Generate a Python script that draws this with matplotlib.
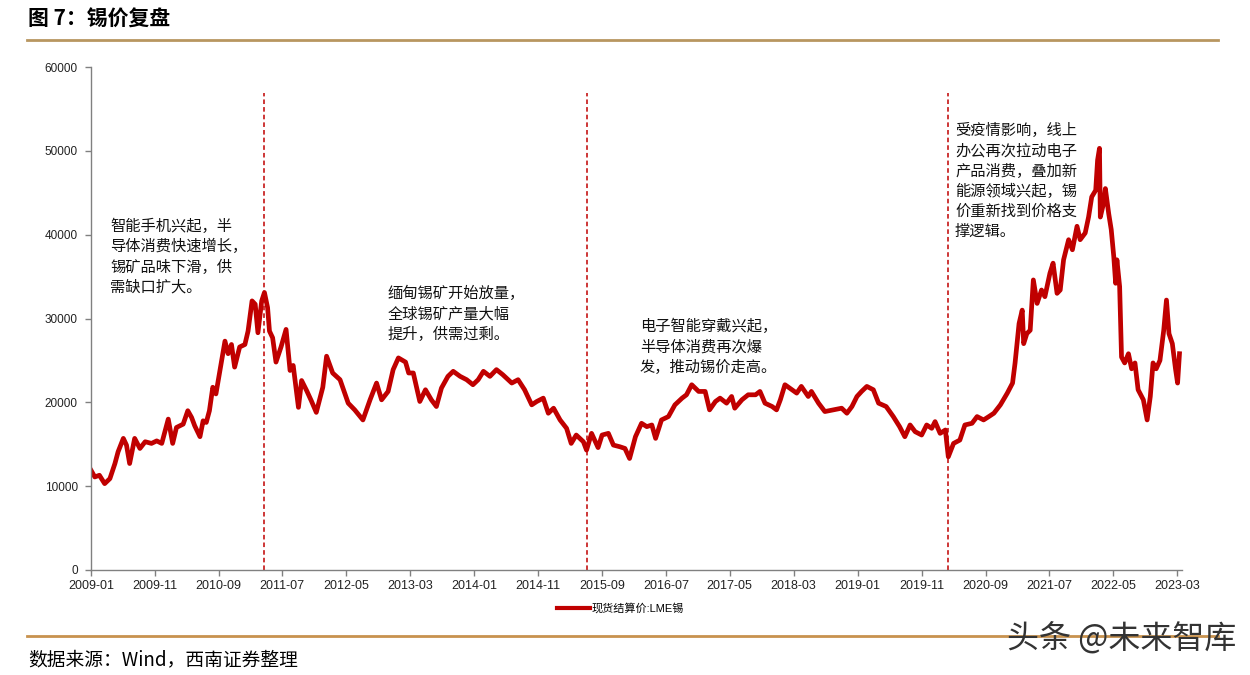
import matplotlib
matplotlib.use("Agg")
import matplotlib.pyplot as plt
import matplotlib.dates as mdates
import pandas as pd

plt.rcParams['font.family'] = ['Liberation Sans', 'Noto Sans CJK SC', 'DejaVu Sans']

# ---------------- data ----------------
dates = [
    "2009-01-01","2009-01-19","2009-02-10","2009-03-07","2009-04-01","2009-04-25","2009-05-10","2009-06-04",
    "2009-06-19","2009-07-04","2009-07-28","2009-08-22","2009-09-16","2009-10-16","2009-11-10","2009-12-04",
    "2010-01-04","2010-01-25","2010-02-12","2010-03-16","2010-04-07","2010-04-25","2010-05-10","2010-06-04",
    "2010-06-19","2010-07-04","2010-07-19","2010-08-04","2010-08-19","2010-09-07","2010-10-01","2010-10-16",
    "2010-11-01","2010-11-16","2010-12-10","2011-01-04","2011-01-19","2011-02-07","2011-02-22","2011-03-07",
    "2011-03-25","2011-04-07","2011-04-22","2011-05-01","2011-05-16","2011-06-01","2011-06-25","2011-07-19",
    "2011-08-07","2011-08-22","2011-09-16","2011-10-01","2011-10-25","2011-11-16","2011-12-10","2012-01-10",
    "2012-01-28","2012-02-26","2012-04-01","2012-05-10","2012-06-10","2012-07-19","2012-08-22","2012-09-22",
    "2012-10-16","2012-11-16","2012-12-10","2013-01-04","2013-02-07","2013-02-22","2013-03-16","2013-04-16",
    "2013-05-13","2013-06-10","2013-07-04","2013-07-28","2013-08-28","2013-09-22","2013-10-25","2013-11-25",
    "2013-12-25","2014-01-19","2014-02-13","2014-03-16","2014-04-16","2014-05-16","2014-06-28","2014-07-28",
    "2014-08-28","2014-10-01","2014-10-25","2014-11-25","2014-12-19","2015-01-13","2015-02-13","2015-03-16",
    "2015-04-07","2015-05-01","2015-06-04","2015-06-19","2015-07-13","2015-08-13","2015-09-01","2015-10-01",
    "2015-10-25","2015-11-25","2015-12-19","2016-01-10","2016-02-07","2016-03-07","2016-04-01","2016-04-25",
    "2016-05-13","2016-06-10","2016-07-13","2016-08-13","2016-09-16","2016-10-07","2016-11-01","2016-12-04",
    "2017-01-04","2017-01-25","2017-02-22","2017-03-16","2017-04-16","2017-05-10","2017-05-25","2017-06-28",
    "2017-07-28","2017-09-01","2017-09-22","2017-10-16","2017-11-19","2017-12-10","2017-12-28","2018-01-19",
    "2018-02-22","2018-03-16","2018-04-07","2018-05-10","2018-05-25","2018-06-28","2018-07-28","2018-09-07",
    "2018-10-16","2018-11-10","2018-12-04","2018-12-28","2019-01-19","2019-02-13","2019-03-16","2019-04-10",
    "2019-05-16","2019-06-19","2019-07-19","2019-08-13","2019-09-07","2019-10-01","2019-11-01","2019-11-25",
    "2019-12-19","2020-01-04","2020-01-28","2020-02-22","2020-03-07","2020-04-01","2020-05-01","2020-05-25",
    "2020-06-28","2020-07-22","2020-08-22","2020-09-16","2020-10-10","2020-11-10","2020-12-13","2021-01-07",
    "2021-01-19","2021-02-07","2021-02-22","2021-03-01","2021-03-16","2021-04-01","2021-04-16","2021-05-04",
    "2021-05-25","2021-06-10","2021-07-04","2021-07-19","2021-08-07","2021-08-22","2021-09-07","2021-10-01",
    "2021-10-19","2021-11-10","2021-11-25","2021-12-19","2022-01-04","2022-01-19","2022-02-07","2022-02-16",
    "2022-02-25","2022-03-01","2022-03-16","2022-03-25","2022-04-10","2022-04-22","2022-05-04","2022-05-13",
    "2022-05-19","2022-06-01","2022-06-10","2022-06-25","2022-07-13","2022-07-28","2022-08-13","2022-08-28",
    "2022-09-22","2022-10-10","2022-10-25","2022-11-07","2022-11-22","2022-12-10","2022-12-28","2023-01-10",
    "2023-01-22","2023-02-07","2023-02-22","2023-03-04","2023-03-13",
]
lme_tin = [
    11900,11100,11300,10300,10900,12700,14100,15700,
    14900,12700,15700,14500,15300,15100,15400,15100,
    18000,15100,17000,17400,19000,18200,17200,15900,
    17800,17600,19000,21800,21000,23800,27300,25800,
    26900,24200,26600,26900,28500,32100,31700,28300,
    32100,33100,31300,28500,27700,24800,26600,28700,
    23800,24400,19400,22600,21400,20200,18800,21800,
    25500,23500,22700,19900,19100,17900,20300,22300,
    20300,21300,23900,25300,24800,23500,23500,20100,
    21500,20300,19500,21700,23100,23700,23100,22700,
    22100,22700,23700,23100,23900,23300,22300,22700,
    21500,19700,20100,20500,18700,19300,17900,16900,
    15100,16100,15300,14300,16300,14600,16100,16300,
    14900,14700,14500,13300,15900,17500,17100,17300,
    15700,17900,18300,19700,20500,20900,22100,21300,
    21300,19100,20100,20500,19900,20700,19300,20300,
    20900,20900,21300,19900,19500,19100,20300,22100,
    21500,21100,21900,20700,21300,19900,18900,19100,
    19300,18700,19500,20700,21300,21900,21500,19900,
    19500,18300,17100,15900,17300,16500,16100,17300,
    16900,17700,16300,16700,13500,15100,15500,17300,
    17500,18300,17900,18300,18700,19700,21100,22300,
    24700,29400,31000,27000,28200,28600,34600,31800,
    33400,32600,35400,36600,33000,33400,37000,39400,
    38200,41000,39400,40200,42100,44500,45300,48900,
    50300,42100,43700,45500,42500,40600,37400,34200,
    37000,33800,25400,24700,25800,24000,24700,21500,
    20300,17900,20700,24700,24000,25000,28600,32200,
    28200,27000,24000,22300,25800,
]
series_name = "现货结算价:LME锡"
event_dates = ["2011-04-07", "2015-06-19", "2020-03-07"]
tick_labels = ["2009-01","2009-11","2010-09","2011-07","2012-05","2013-03","2014-01","2014-11","2015-09",
               "2016-07","2017-05","2018-03","2019-01","2019-11","2020-09","2021-07","2022-05","2023-03"]
y_ticks = [0, 10000, 20000, 30000, 40000, 50000, 60000]
notes = [
    "智能手机兴起，半\n导体消费快速增长，\n锡矿品味下滑，供\n需缺口扩大。",
    "缅甸锡矿开始放量，\n全球锡矿产量大幅\n提升，供需过剩。",
    "电子智能穿戴兴起，\n半导体消费再次爆\n发，推动锡价走高。",
    "受疫情影响，线上\n办公再次拉动电子\n产品消费，叠加新\n能源领域兴起，锡\n价重新找到价格支\n撑逻辑。",
]
title = "图 7：锡价复盘"
source = "数据来源：Wind，西南证券整理"
watermark = "头条 @未来智库"

# ---------------- figure ----------------
W, H = 1250, 675
fig = plt.figure(figsize=(W / 100, H / 100), dpi=100)
ax = fig.add_axes([91 / W, 1 - 570 / H, (1182 - 91) / W, (570 - 67) / H])

x = pd.to_datetime(dates)
red = "#C00000"
ax.plot(x, lme_tin, color=red, lw=3.4, solid_joinstyle="round", label=series_name)

for d in event_dates:
    ax.plot([pd.Timestamp(d)] * 2, [0, 56900], color=red, lw=1.1, ls=(0, (3, 2)))

ax.set_ylim(0, 60000)
ax.set_yticks(y_ticks)
ax.set_yticklabels([str(v) for v in y_ticks], fontsize=8.5, color="#222222")
ax.set_xlim(pd.Timestamp("2009-01-01"), pd.Timestamp("2023-03-25"))
tick_pos = pd.to_datetime([t + "-01" for t in tick_labels])
ax.set_xticks(tick_pos)
ax.set_xticklabels(tick_labels, fontsize=9, color="#222222")

for s in ["top", "right"]:
    ax.spines[s].set_visible(False)
for s in ["left", "bottom"]:
    ax.spines[s].set_color("#808080")
    ax.spines[s].set_linewidth(1.0)
ax.tick_params(axis="both", direction="out", length=4, color="#808080", width=1.0)
ax.tick_params(axis="y", pad=5.5)
ax.tick_params(axis="x", pad=3)

# annotations
note_pos = [(110, 218), (388, 285), (640, 318), (955, 122)]
for txt, (px, py) in zip(notes, note_pos):
    fig.text(px / W, 1 - py / H, txt, fontsize=11, family=["Noto Sans CJK SC", "DejaVu Sans"],
             ha="left", va="top", linespacing=1.25, color="#111111")

# legend
leg = fig.legend(loc="center", bbox_to_anchor=(620 / W, 1 - 608 / H), frameon=False,
                 prop={"family": ["Liberation Sans", "Noto Sans CJK SC"], "size": 8},
                 handlelength=3.0, handletextpad=0.1)
for l in leg.get_lines():
    l.set_linewidth(3)

# header / footer
fig.text(28 / W, 1 - 19 / H, title, fontsize=15, fontweight="bold",
         family=["Noto Sans CJK SC", "DejaVu Sans"], ha="left", va="center", color="#000000")
fig.add_artist(plt.Line2D([27 / W, 1218 / W], [1 - 40 / H] * 2, color="#B89660", lw=2))
fig.add_artist(plt.Line2D([27 / W, 1218 / W], [1 - 636 / H] * 2, color="#C8924E", lw=2))
fig.text(28 / W, 1 - 660 / H, source, fontsize=13.5, style="italic",
         family=["Noto Sans CJK SC", "DejaVu Sans"], ha="left", va="center", color="#000000")
fig.text(1236 / W, 1 - 638 / H, watermark, fontsize=23,
         family=["Noto Sans CJK SC", "DejaVu Sans"], ha="right", va="center", color="#333333")

fig.savefig("out.png", dpi=100)
